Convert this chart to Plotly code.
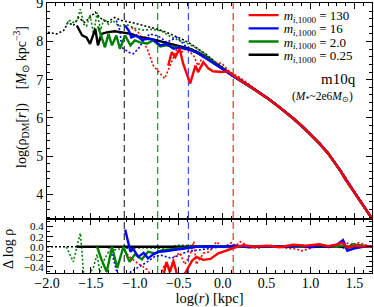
import plotly.graph_objects as go

FONT = "Liberation Serif, Times New Roman, serif"
RED, BLUE, GREEN, BLACK = "#ff0000", "#0000ff", "#008000", "#000000"

# ---------------- top panel: log(rho_DM) vs log(r) ----------------
# shared outer profile (all resolutions converge there)
r_out = [0.2, 0.3, 0.4, 0.5, 0.6, 0.7, 0.8, 0.9, 1.0, 1.1, 1.2, 1.3, 1.35, 1.4, 1.45, 1.5, 1.6, 1.7]
rho_out_solid = [6.98, 6.84, 6.69, 6.53, 6.36, 6.18, 5.99, 5.79, 5.57, 5.33, 5.07, 4.75, 4.58, 4.38, 4.22, 4.04, 3.70, 3.36]
rho_out_dotted = [7.01, 6.86, 6.71, 6.55, 6.38, 6.20, 6.01, 5.81, 5.59, 5.35, 5.09, 4.77, 4.60, 4.40, 4.24, 4.06, 3.72, 3.38]
rho_out_red_dotted = [7.05, 6.88, 6.70, 6.55, 6.37, 6.19, 5.98, 5.77, 5.56, 5.35, 5.06, 4.78, 4.62, 4.44, 4.25, 4.08, 3.73, 3.38]

# black (m=0.25)
bk_r = [-1.66, -1.60, -1.55, -1.51, -1.45, -1.42, -1.38, -1.32, -1.23, -1.13, -1.04, -0.96, -0.88, -0.75, -0.65, -0.56, -0.46, -0.37, -0.28, -0.18, -0.10, 0.0, 0.1]
bk_rho = [8.42, 8.16, 8.11, 7.94, 8.33, 7.90, 8.20, 8.24, 8.27, 8.24, 8.20, 8.12, 8.10, 8.03, 7.97, 7.91, 7.86, 7.81, 7.71, 7.59, 7.44, 7.28, 7.13]
bkd_r = [-1.99, -1.89, -1.81, -1.76, -1.70, -1.64, -1.57, -1.45, -1.40, -1.32, -1.23, -1.15, -1.04, -0.94, -0.85, -0.75, -0.65, -0.56, -0.46, -0.37, -0.28, -0.18, -0.10, 0.0, 0.1]
bkd_rho = [8.24, 8.20, 8.29, 8.50, 8.42, 8.63, 8.50, 8.77, 8.63, 8.50, 8.63, 8.55, 8.50, 8.44, 8.40, 8.33, 8.25, 8.17, 8.06, 7.95, 7.81, 7.65, 7.49, 7.32, 7.16]

# green (m=2.0)
gr_r = [-1.42, -1.38, -1.34, -1.30, -1.26, -1.21, -1.17, -1.11, -1.05, -1.00, -0.94, -0.86, -0.79, -0.71, -0.64, -0.56, -0.46, -0.37, -0.28, -0.18, -0.10, 0.0, 0.1]
gr_rho = [8.40, 8.11, 7.85, 8.20, 7.90, 8.16, 7.81, 8.16, 7.90, 8.03, 7.98, 7.95, 8.03, 7.87, 7.90, 7.86, 7.83, 7.79, 7.69, 7.57, 7.43, 7.28, 7.13]
grd_r = [-1.78, -1.74, -1.70, -1.66, -1.62, -1.58, -1.55, -1.51, -1.47, -1.43, -1.39, -1.35, -1.30, -1.25, -1.18, -1.10, -1.00, -0.90, -0.80, -0.70, -0.60, -0.50, -0.40, -0.30, -0.20, -0.10, 0.0, 0.1]
grd_rho = [8.45, 8.55, 8.50, 8.55, 8.85, 8.45, 8.40, 8.70, 8.20, 8.75, 8.30, 8.60, 8.45, 8.55, 8.40, 8.45, 8.35, 8.30, 8.32, 8.28, 8.14, 8.03, 7.95, 7.83, 7.67, 7.49, 7.32, 7.16]

# blue (m=16)
bl_r = [-1.11, -1.07, -1.04, -0.98, -0.92, -0.86, -0.79, -0.71, -0.64, -0.56, -0.49, -0.41, -0.30, -0.18, -0.10, 0.0, 0.1]
bl_rho = [8.42, 8.29, 8.11, 8.16, 8.04, 8.07, 8.05, 7.90, 7.94, 7.81, 7.85, 7.81, 7.72, 7.55, 7.43, 7.28, 7.12]
bld_r = [-1.21, -1.17, -1.15, -1.07, -1.02, -0.96, -0.90, -0.83, -0.76, -0.71, -0.64, -0.58, -0.52, -0.41, -0.30, -0.20, -0.10, 0.0, 0.1]
bld_rho = [8.55, 8.29, 7.85, 7.72, 7.68, 7.81, 8.03, 8.20, 8.16, 8.11, 7.98, 8.05, 8.11, 7.85, 7.76, 7.62, 7.46, 7.30, 7.15]

# red (m=130)
rd_r = [-0.62, -0.58, -0.54, -0.49, -0.45, -0.37, -0.31, -0.28, -0.22, -0.16, -0.11, -0.01, 0.06, 0.14]
rd_rho = [7.37, 7.72, 7.59, 7.81, 7.42, 6.90, 7.37, 7.20, 7.46, 7.29, 7.22, 7.20, 7.22, 7.07]
rdd_r = [-1.04, -0.96, -0.86, -0.79, -0.66, -0.58, -0.52, -0.47, -0.41, -0.33, -0.28, -0.22, -0.11, -0.01, 0.08, 0.15]
rdd_rho = [8.37, 8.24, 7.81, 7.37, 7.03, 7.46, 7.81, 7.72, 7.81, 7.63, 7.37, 7.63, 7.46, 7.43, 7.20, 7.12]

# ---------------- bottom panel: delta log rho ----------------
d_bk_r = [-1.66, 1.7]
d_bk = [0.0, 0.0]
d_bkd_r = [-2.0, 1.7]
d_bkd = [0.0, 0.0]
d_gr_r = [-1.43, -1.38, -1.32, -1.26, -1.20, -1.13, -1.06, -1.00, -0.92, -0.85, -0.77, -0.69, -0.58, -0.45, -0.30, -0.1, 0.1, 0.3, 0.5, 0.7, 0.9, 1.1, 1.3, 1.38, 1.42, 1.47, 1.55, 1.7]
d_gr = [0.0, -0.25, -0.50, 0.0, -0.42, 0.0, -0.30, -0.15, -0.25, -0.10, -0.13, -0.07, -0.05, -0.03, 0.0, 0.01, -0.01, 0.01, 0.0, 0.01, 0.0, 0.02, 0.0, 0.03, -0.06, 0.05, 0.03, 0.0]
d_grd_r = [-1.78, -1.74, -1.70, -1.66, -1.62, -1.58, -1.52, -1.47, -1.43, -1.40, -1.36, -1.30, -1.20, -1.10, -0.90, -0.70, -0.50, -0.30, 0.0, 0.3, 0.6, 0.9, 1.2, 1.5, 1.7]
d_grd = [0.0, -0.15, -0.30, 0.0, 0.27, -0.60, -0.55, -0.40, -0.15, -0.50, -0.30, -0.10, -0.05, -0.03, -0.02, -0.03, 0.03, 0.02, 0.0, 0.02, 0.0, 0.01, 0.0, 0.02, 0.0]
d_bl_r = [-1.11, -1.05, -1.02, -0.96, -0.90, -0.85, -0.79, -0.73, -0.66, -0.58, -0.50, -0.40, -0.30, -0.15, 0.0, 0.15, 0.3, 0.5, 0.7, 0.9, 1.0, 1.1, 1.2, 1.3, 1.37, 1.42, 1.5, 1.6, 1.7]
d_bl = [0.34, -0.10, -0.04, -0.20, -0.12, -0.23, -0.15, -0.10, -0.09, -0.07, -0.04, -0.02, 0.0, 0.01, 0.0, 0.02, -0.01, 0.01, 0.0, 0.02, -0.01, 0.03, 0.0, 0.04, 0.13, -0.08, -0.03, 0.0, 0.0]
d_bld_r = [-1.30, -1.25, -1.21, -1.15, -1.04, -0.95, -0.85, -0.77, -0.70, -0.58, -0.50, -0.41, -0.30, -0.15, 0.0, 0.3, 0.6, 0.9, 1.2, 1.4, 1.5, 1.7]
d_bld = [0.0, -0.20, -0.47, -0.62, -0.49, -0.40, -0.29, -0.19, -0.17, -0.23, -0.17, -0.10, -0.07, -0.03, 0.0, 0.01, -0.01, 0.0, 0.02, -0.03, 0.0, 0.0]
d_rd_r = [-0.68, -0.64, -0.60, -0.56, -0.52, -0.49, -0.43, -0.35, -0.30, -0.22, -0.14, -0.05, 0.05, 0.16, 0.24, 0.35, 0.5, 0.65, 0.8, 0.95, 1.1, 1.2, 1.3, 1.36, 1.42, 1.5, 1.6, 1.7]
d_rd = [-0.60, -0.30, -0.50, -0.28, -0.55, -0.62, -0.53, -0.28, -0.20, -0.26, -0.24, -0.13, -0.07, 0.0, 0.03, 0.0, 0.02, -0.01, 0.04, 0.02, 0.05, 0.01, 0.04, 0.08, -0.02, 0.02, 0.01, 0.0]
d_rdd_r = [-1.12, -1.06, -0.99, -0.92, -0.86, -0.80, -0.72, -0.66, -0.60, -0.55, -0.49, -0.43, -0.37, -0.33, -0.30, -0.22, -0.15, -0.07, 0.0, 0.1, 0.15, 0.2, 0.3, 0.4, 0.55, 0.7, 0.85, 0.9, 1.0, 1.1, 1.2, 1.3, 1.4, 1.45, 1.55, 1.65]
d_rdd = [-0.08, -0.20, -0.30, -0.38, -0.45, -0.60, -0.60, -0.35, -0.45, -0.20, -0.12, -0.35, -0.15, 0.10, -0.35, -0.13, -0.10, 0.10, -0.02, 0.08, 0.02, 0.10, 0.0, -0.03, 0.03, -0.02, -0.05, -0.08, -0.03, 0.02, -0.02, 0.05, 0.10, 0.03, 0.08, 0.02]

# convergence radii (dashed lines)
conv_r = [-1.12, -0.74, -0.39, 0.12]
conv_colors = ["#333333", "#2e8b2e", "#3355ff", "#e03030"]

mass_labels = ["130", "16", "2.0", "0.25"]

for a, b in [(bk_r, bk_rho), (bkd_r, bkd_rho), (gr_r, gr_rho), (grd_r, grd_rho), (bl_r, bl_rho),
             (bld_r, bld_rho), (rd_r, rd_rho), (rdd_r, rdd_rho), (r_out, rho_out_solid),
             (d_gr_r, d_gr), (d_grd_r, d_grd), (d_bl_r, d_bl), (d_bld_r, d_bld), (d_rd_r, d_rd), (d_rdd_r, d_rdd)]:
    assert len(a) == len(b)

fig = go.Figure()


def add(r, v, color, top, dotted, name=None, legend=None, width=None):
    fig.add_trace(go.Scatter(
        x=r, y=v, mode="lines",
        xaxis="x2" if top else "x", yaxis="y2" if top else "y",
        line=dict(color=color, width=width or (1.6 if dotted else 2.4),
                  dash="2px,2px" if dotted else "solid"),
        name=name, showlegend=name is not None, legend=legend, hoverinfo="skip"))


# top panel: dotted first
add(bkd_r + r_out, bkd_rho + rho_out_dotted, BLACK, True, True)
add(grd_r + r_out, grd_rho + rho_out_dotted, GREEN, True, True)
add(bld_r + r_out, bld_rho + rho_out_dotted, BLUE, True, True)
add(rdd_r + r_out, rdd_rho + rho_out_red_dotted, RED, True, True)
add(bk_r + r_out, bk_rho + rho_out_solid, BLACK, True, False,
    name="<i>m</i><sub><i>i</i>,1000</sub> = " + mass_labels[3], legend="legend4")
add(gr_r + r_out, gr_rho + rho_out_solid, GREEN, True, False,
    name="<i>m</i><sub><i>i</i>,1000</sub> = " + mass_labels[2], legend="legend3")
add(bl_r + r_out, bl_rho + rho_out_solid, BLUE, True, False,
    name="<i>m</i><sub><i>i</i>,1000</sub> = " + mass_labels[1], legend="legend2")
add(rd_r + r_out, rd_rho + rho_out_solid, RED, True, False,
    name="<i>m</i><sub><i>i</i>,1000</sub> = " + mass_labels[0], legend="legend")

# bottom panel
add(d_bkd_r, d_bkd, BLACK, False, True)
add(d_grd_r, d_grd, GREEN, False, True)
add(d_bld_r, d_bld, BLUE, False, True)
add(d_rdd_r, d_rdd, RED, False, True)
add(d_bk_r, d_bk, BLACK, False, False)
add(d_gr_r, d_gr, GREEN, False, False)
add(d_bl_r, d_bl, BLUE, False, False)
add(d_rd_r, d_rd, RED, False, False)

shapes = []
for xv, c in zip(conv_r, conv_colors):
    shapes.append(dict(type="line", xref="x", yref="paper", x0=xv, x1=xv, y0=0, y1=1,
                       line=dict(color=c, width=1.2, dash="7px,4px"), layer="below"))

tick_common = dict(ticks="inside", tickcolor="black", tickwidth=1, ticklen=6,
                   showline=True, linecolor="black", linewidth=1, mirror="ticks",
                   showgrid=False, zeroline=False, automargin=False, ticklabeloverflow="allow")


def minor(d):
    return dict(dtick=d, ticks="inside", ticklen=3, tickcolor="black", tickwidth=1, showgrid=False)


leg_common = dict(xanchor="left", yanchor="middle", bgcolor="rgba(0,0,0,0)",
                  font=dict(family=FONT, size=13, color="black"), itemwidth=30, tracegroupgap=0)
leg_x = 0.605
leg_y = [0.955, 0.906, 0.857, 0.808]

fig.update_layout(
    width=374, height=307,
    margin=dict(l=47, r=2, t=3, b=34, autoexpand=False),
    paper_bgcolor="white", plot_bgcolor="white",
    font=dict(family=FONT, color="black"),
    shapes=shapes,
    xaxis=dict(domain=[0, 1], anchor="y", range=[-2.0, 1.7], tick0=0, dtick=0.5, tickformat=".1f",
               tickfont=dict(family=FONT, size=14, color="black"), minor=minor(0.1),
               ticklabelstandoff=-3,
               title=dict(text="log(<i>r</i>) [kpc]", font=dict(family=FONT, size=14.5, color="black"),
                          standoff=3),
               **tick_common),
    xaxis2=dict(domain=[0, 1], anchor="y2", matches="x", range=[-2.0, 1.7], tick0=0, dtick=0.5,
                showticklabels=False, minor=minor(0.1), **tick_common),
    yaxis=dict(domain=[0, 0.2], anchor="x", range=[-0.52, 0.55], tick0=0, dtick=0.2, tickformat=".1f",
               tickfont=dict(family=FONT, size=11, color="black"), minor=minor(0.1), **tick_common),
    yaxis2=dict(domain=[0.2, 1], anchor="x2", range=[3.35, 9.01], tick0=0, dtick=1,
                tickfont=dict(family=FONT, size=14, color="black"), minor=minor(0.2), **tick_common),
    legend=dict(x=leg_x, y=leg_y[0], **leg_common),
    legend2=dict(x=leg_x, y=leg_y[1], **leg_common),
    legend3=dict(x=leg_x, y=leg_y[2], **leg_common),
    legend4=dict(x=leg_x, y=leg_y[3], **leg_common),
    annotations=[
        dict(text="log(ρ<sub>DM</sub>[<i>r</i>])    [<i>M</i><sub>⊙</sub> kpc<sup>−3</sup>]",
             xref="paper", yref="paper", x=-0.08, y=0.652, xanchor="center", yanchor="middle",
             textangle=-90, showarrow=False, font=dict(family=FONT, size=14, color="black")),
        dict(text="Δ log ρ", xref="paper", yref="paper", x=-0.117, y=0.089,
             xanchor="center", yanchor="middle", textangle=-90, showarrow=False,
             font=dict(family=FONT, size=14, color="black")),
        dict(text="m10q", xref="paper", yref="paper", x=0.898, y=0.7185, xanchor="center",
             yanchor="middle", showarrow=False, font=dict(family=FONT, size=15, color="black")),
        dict(text="(<i>M</i><sub>*</sub>~2e6<i>M</i><sub>⊙</sub>)", xref="paper", yref="paper",
             x=0.849, y=0.652, xanchor="center", yanchor="middle", showarrow=False,
             font=dict(family=FONT, size=11.5, color="black")),
    ],
)

fig.write_html("out.html", config={"displayModeBar": False, "staticPlot": True},
               post_script="document.body.style.margin='0';")
